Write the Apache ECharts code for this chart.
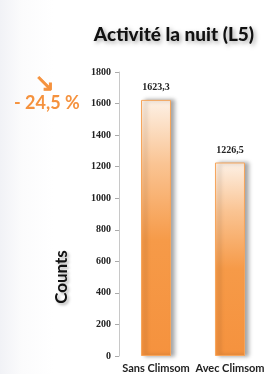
<!DOCTYPE html>
<html>
<head>
<meta charset="utf-8">
<script src="https://cdn.jsdelivr.net/npm/echarts@6/dist/echarts.min.js"></script>
<style>
  html, body { margin: 0; padding: 0; background: #fff; }
  #chart { width: 267px; height: 374px; }
</style>
</head>
<body>
<div id="chart"></div>
<script>
// data
var categories = ['Sans Climsom', 'Avec Climsom'];
var counts = [1623.3, 1226.5];
var yTicks = { min: 0, max: 1800, step: 200 };
var changeText = '- 24,5 %';

var chart = echarts.init(document.getElementById('chart'));

var orange = '#f5923e';

chart.setOption({
  backgroundColor: new echarts.graphic.LinearGradient(0, 0, 1, 0, [
    { offset: 0, color: '#f1f2f6' },
    { offset: 0.08, color: '#fbfbfc' },
    { offset: 0.2, color: '#ffffff' },
    { offset: 1, color: '#ffffff' }
  ]),
  title: {
    text: 'Activité la nuit (L5)',
    left: 169,
    top: 20,
    textAlign: 'center',
    textStyle: {
      fontFamily: 'Lato',
      fontWeight: 900,
      fontSize: 19,
      color: '#111',
      textShadowColor: 'rgba(0,0,0,0.35)',
      textShadowBlur: 4,
      textShadowOffsetX: 2,
      textShadowOffsetY: 2
    }
  },
  grid: {
    left: 119,
    right: -2,
    top: 72,
    bottom: 15
  },
  xAxis: {
    type: 'category',
    data: categories,
    axisLine: { show: false },
    axisTick: { show: false },
    axisLabel: {
      margin: 7,
      fontFamily: 'Lato',
      fontWeight: 'bold',
      fontSize: 11,
      color: '#222',
      interval: 0
    }
  },
  yAxis: {
    type: 'value',
    min: yTicks.min,
    max: yTicks.max,
    interval: yTicks.step,
    splitLine: { show: false },
    axisLine: { show: true, lineStyle: { color: '#c8c8c8', width: 1 } },
    axisTick: { show: true, length: 4, lineStyle: { color: '#aaa' } },
    axisLabel: {
      margin: 8,
      fontFamily: 'Liberation Serif',
      fontWeight: 'bold',
      fontSize: 10,
      color: '#222',
      formatter: function (v) { return String(v); }
    }
  },
  series: [{
    type: 'bar',
    data: counts,
    barWidth: 30,
    itemStyle: {
      color: new echarts.graphic.LinearGradient(0, 0, 0, 1, [
        { offset: 0, color: '#fdf1e6' },
        { offset: 0.25, color: '#fac493' },
        { offset: 0.55, color: '#f69a48' },
        { offset: 1, color: orange }
      ]),
      borderColor: '#f6a55c',
      borderWidth: 1,
      shadowColor: 'rgba(0,0,0,0.35)',
      shadowBlur: 4,
      shadowOffsetX: 4,
      shadowOffsetY: 0
    },
    label: {
      show: true,
      position: 'top',
      distance: 7,
      fontFamily: 'Liberation Serif',
      fontWeight: 'bold',
      fontSize: 10,
      color: '#222',
      formatter: function (p) { return String(p.value).replace('.', ','); }
    }
  }],
  graphic: [
    {
      type: 'text',
      left: 34,
      top: 72,
      style: {
        text: '\u2198',
        fontFamily: 'DejaVu Sans',
        fontSize: 24,
        fill: orange,
        stroke: orange,
        lineWidth: 1
      }
    },
    {
      type: 'text',
      left: 14,
      top: 94,
      style: {
        text: changeText,
        fontFamily: 'Lato',
        fontWeight: 'bold',
        fontSize: 18,
        fill: orange
      }
    },
    {
      type: 'text',
      x: 62,
      y: 277,
      rotation: Math.PI / 2,
      style: {
        text: 'Counts',
        fontFamily: 'Lato',
        fontWeight: 'bold',
        fontSize: 17,
        fill: '#111',
        align: 'center',
        verticalAlign: 'middle',
        textShadowColor: 'rgba(0,0,0,0.3)',
        textShadowBlur: 3,
        textShadowOffsetX: 2,
        textShadowOffsetY: 2
      }
    }
  ]
});
</script>
</body>
</html>
